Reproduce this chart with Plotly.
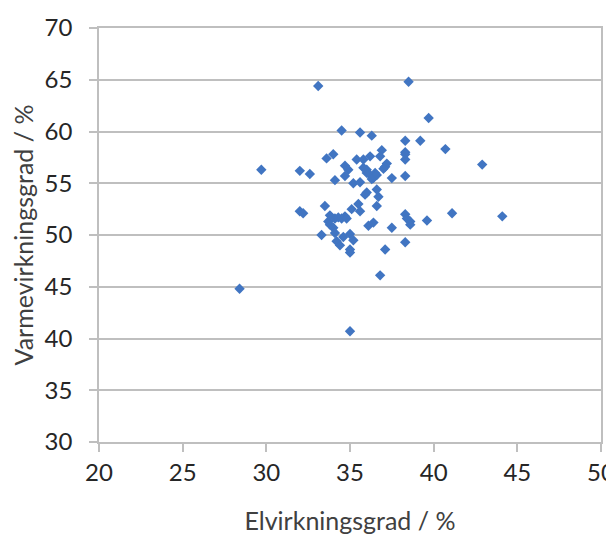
import plotly.graph_objects as go

# Elvirkningsgrad (%) and Varmevirkningsgrad (%)
el_eff = [28.4, 29.7, 32.0, 32.6, 32.0, 32.2, 33.1, 38.5, 39.7, 34.5,
          35.6, 36.3, 38.3, 39.2, 40.7, 36.9, 38.3, 38.3, 38.3, 34.0,
          33.6, 35.4, 35.8, 36.2, 36.8, 37.2, 37.1, 37.0, 34.7, 34.9,
          34.7, 34.1, 35.2, 35.6, 36.0, 36.0, 36.2, 36.5, 36.4, 36.6,
          37.5, 38.3, 42.9, 36.6, 36.0, 35.9, 36.7, 33.5, 35.5, 35.6,
          35.1, 36.6, 33.8, 34.1, 34.3, 34.5, 34.7, 34.8, 33.7, 33.8,
          34.0, 36.1, 36.4, 37.5, 38.3, 38.4, 38.6, 38.6, 39.6, 41.1,
          44.1, 33.3, 34.1, 34.6, 35.0, 35.2, 34.2, 34.4, 35.0, 35.0,
          37.1, 38.3, 36.8, 35.0, 35.8, 36.3]
varme_eff = [44.8, 56.3, 56.2, 55.9, 52.3, 52.1, 64.4, 64.8, 61.3, 60.1,
             59.9, 59.6, 59.1, 59.1, 58.3, 58.2, 58.0, 57.8, 57.3, 57.8,
             57.4, 57.3, 57.3, 57.6, 57.6, 56.9, 56.6, 56.4, 56.7, 56.3,
             55.7, 55.3, 55.0, 55.1, 56.3, 56.0, 55.8, 56.0, 55.5, 55.8,
             55.5, 55.7, 56.8, 54.4, 54.1, 53.9, 53.7, 52.8, 53.0, 52.3,
             52.5, 52.8, 51.9, 51.6, 51.7, 51.6, 51.8, 51.6, 51.3, 51.0,
             50.7, 50.9, 51.2, 50.7, 52.0, 51.6, 51.3, 51.0, 51.4, 52.1,
             51.8, 50.0, 50.2, 49.8, 50.1, 49.5, 49.4, 49.0, 48.6, 48.3,
             48.6, 49.3, 46.1, 40.7, 56.5, 55.4]

x_ticks = [20, 25, 30, 35, 40, 45, 50]
y_ticks = [30, 35, 40, 45, 50, 55, 60, 65, 70]
x_title = "Elvirkningsgrad / %"
y_title = "Varmevirkningsgrad / %"

fig = go.Figure()
fig.add_trace(go.Scatter(
    x=el_eff, y=varme_eff, mode="markers",
    marker=dict(symbol="diamond", size=8, color="#4175C2"),
    showlegend=False,
))

font_family = "Lato, 'Open Sans', sans-serif"
grid_col = "#BFBFBF"

fig.update_layout(
    width=614, height=536,
    margin=dict(l=91, r=21, t=20, b=102),
    paper_bgcolor="white", plot_bgcolor="white",
    font=dict(family=font_family, color="#404040"),
)
fig.update_xaxes(
    range=[20, 50], tickvals=x_ticks, automargin=False,
    ticklabeloverflow="allow",
    showgrid=False, zeroline=False,
    showline=True, linecolor=grid_col, linewidth=1.5, mirror=True,
    ticks="outside", ticklen=8, tickcolor=grid_col, tickwidth=1.5,
    tickfont=dict(size=24, color="#262626"),
    title=dict(text=x_title, font=dict(size=25, color="#404040"), standoff=28),
)
fig.update_yaxes(
    range=[30, 70], tickvals=y_ticks, automargin=False,
    ticklabeloverflow="allow",
    showgrid=True, gridcolor=grid_col, gridwidth=1.5, zeroline=False,
    showline=True, linecolor=grid_col, linewidth=1.5, mirror=True,
    ticks="outside", ticklen=8, tickcolor=grid_col, tickwidth=1.5,
    tickfont=dict(size=24, color="#262626"),
    ticklabelstandoff=12,
    title=dict(text=y_title, font=dict(size=25, color="#404040"), standoff=6),
)

fig.write_html("out.html")
